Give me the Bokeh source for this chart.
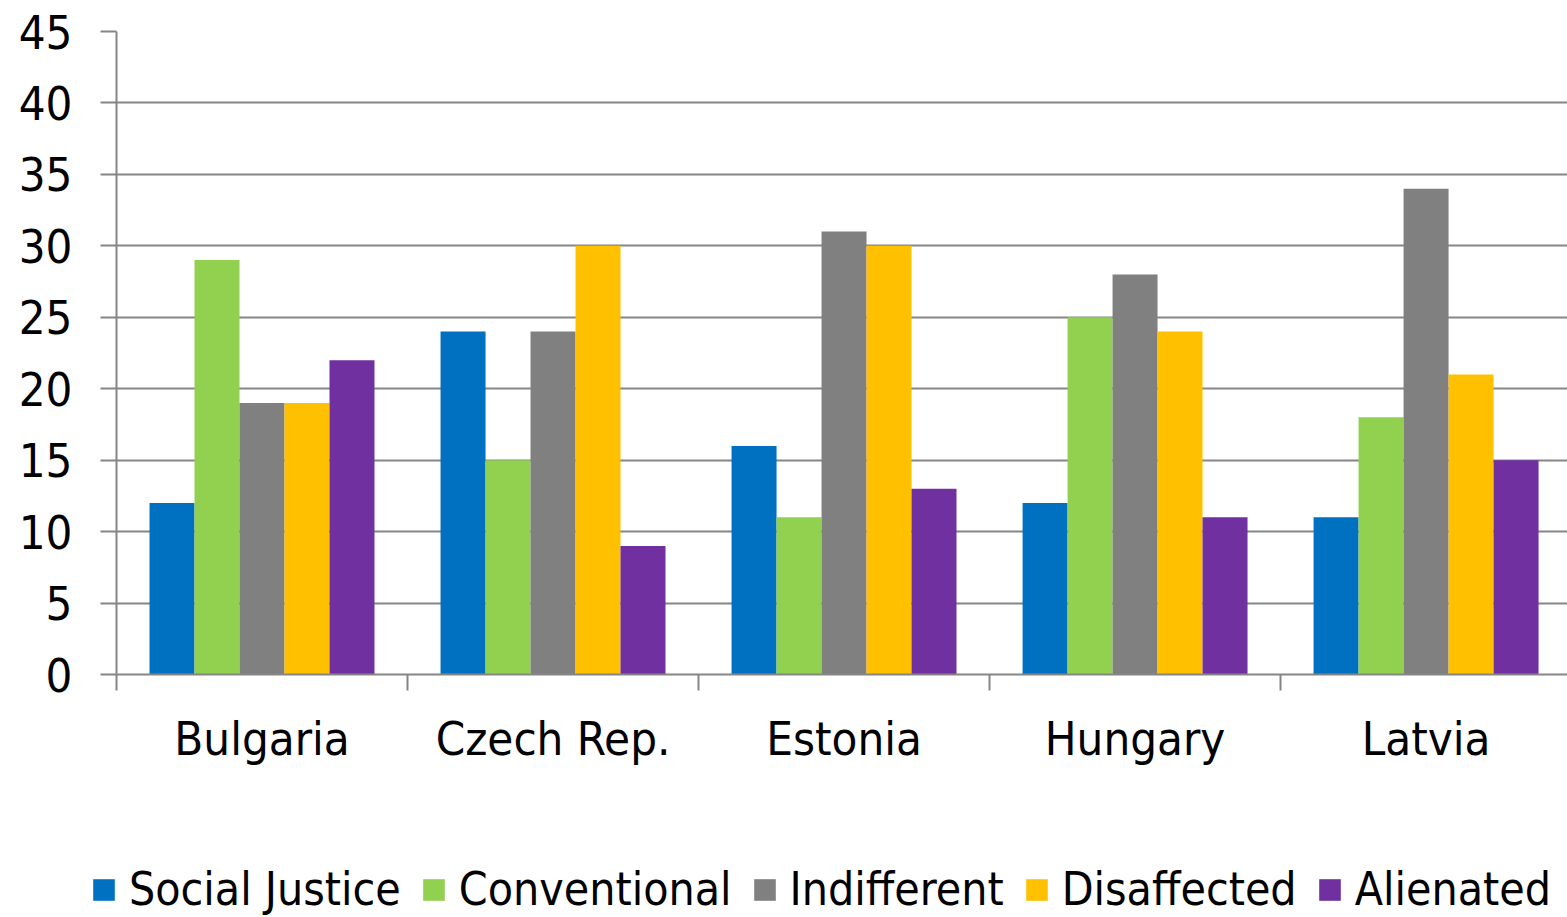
from bokeh.plotting import figure
from bokeh.layouts import column
from bokeh.models import (ColumnDataSource, Range1d, FixedTicker, Legend, LegendItem)
from bokeh.embed import file_html
from bokeh.resources import INLINE

countries = ["Bulgaria", "Czech Rep.", "Estonia", "Hungary", "Latvia"]
series = ["Social Justice", "Conventional", "Indifferent", "Disaffected", "Alienated"]
social_justice = [12, 24, 16, 12, 11]
conventional = [29, 15, 11, 25, 18]
indifferent = [19, 24, 31, 28, 34]
disaffected = [19, 30, 30, 24, 21]
alienated = [22, 9, 13, 11, 15]
y_ticks = [0, 5, 10, 15, 20, 25, 30, 35, 40, 45]

values = [social_justice, conventional, indifferent, disaffected, alienated]
colors = ["#0070C0", "#92D050", "#808080", "#FFC000", "#7030A0"]

FONT = "DejaVu Sans Condensed"
GRID = "#868686"

p = figure(width=1567, height=800, output_backend="svg", toolbar_location=None,
           x_range=Range1d(0, 4.986), y_range=Range1d(0, 45),
           min_border_left=116, min_border_right=0, min_border_top=31,
           min_border_bottom=126)
p.outline_line_color = None
p.background_fill_color = "white"
p.border_fill_color = "white"

# separate strip underneath the chart that carries the legend
key = figure(width=1567, height=117, output_backend="svg", toolbar_location=None,
             x_range=Range1d(100, 101), y_range=Range1d(100, 101),
             min_border=0, x_axis_location=None, y_axis_location=None)
key.outline_line_color = None
key.xgrid.visible = False
key.ygrid.visible = False

# let the legend strip use its full width instead of lining up with the chart frame
free_frame = "frame_align" in key.properties()
if free_frame:
    key.frame_align = False
    p.frame_align = False

bar_w = 0.1546
items = []
for j, (name, vals, col) in enumerate(zip(series, values, colors)):
    src = ColumnDataSource(dict(x=[i + 0.5 + (j - 2) * bar_w for i in range(len(countries))],
                                top=vals))
    p.vbar(x="x", top="top", width=bar_w, bottom=0, source=src,
           fill_color=col, line_color=None)
    r = key.vbar(x="x", top="top", width=bar_w, bottom=0, source=src,
                 fill_color=col, line_color=None)
    items.append(LegendItem(label=name, renderers=[r]))

# y axis
p.yaxis.ticker = FixedTicker(ticks=y_ticks)
p.yaxis.axis_line_color = GRID
p.yaxis.axis_line_width = 2
p.yaxis.major_tick_line_color = GRID
p.yaxis.major_tick_line_width = 2
p.yaxis.major_tick_out = 16
p.yaxis.major_tick_in = 0
p.yaxis.minor_tick_line_color = None
p.yaxis.major_label_text_font = FONT
p.yaxis.major_label_text_font_size = "47px"
p.yaxis.major_label_text_color = "black"
p.yaxis.major_label_standoff = 28

# x axis: labels at group centres, ticks at group boundaries
label_map = {i + 0.5: c for i, c in enumerate(countries)}
p.xaxis.ticker = FixedTicker(ticks=list(label_map.keys()), minor_ticks=[0, 1, 2, 3, 4, 5])
p.xaxis.major_label_overrides = {k: v for k, v in label_map.items()}
p.xaxis.axis_line_color = GRID
p.xaxis.axis_line_width = 2
p.xaxis.major_tick_line_color = None
p.xaxis.major_tick_out = 16
p.xaxis.major_tick_in = 0
p.xaxis.minor_tick_line_color = GRID
p.xaxis.minor_tick_line_width = 2
p.xaxis.minor_tick_out = 16
p.xaxis.minor_tick_in = 0
p.xaxis.major_label_text_font = FONT
p.xaxis.major_label_text_font_size = "47px"
p.xaxis.major_label_text_color = "black"
p.xaxis.major_label_standoff = 20

p.xgrid.grid_line_color = None
p.ygrid.ticker = FixedTicker(ticks=y_ticks)
p.ygrid.grid_line_color = GRID
p.ygrid.grid_line_width = 2

if free_frame:
    legend_loc, legend_gap, legend_size = (90, 1), 19, "46px"
else:
    legend_loc, legend_gap, legend_size = (2, 1), 16, "45px"

legend = Legend(items=items, orientation="horizontal", location=legend_loc,
                glyph_width=27, glyph_height=27, label_standoff=12, spacing=legend_gap,
                label_height=27, padding=0, margin=0, border_line_color=None,
                background_fill_alpha=0,
                label_text_font=FONT, label_text_font_size=legend_size,
                label_text_color="black")
key.add_layout(legend, "center")

open("out.html", "w").write(file_html(column(p, key, spacing=0), INLINE))
